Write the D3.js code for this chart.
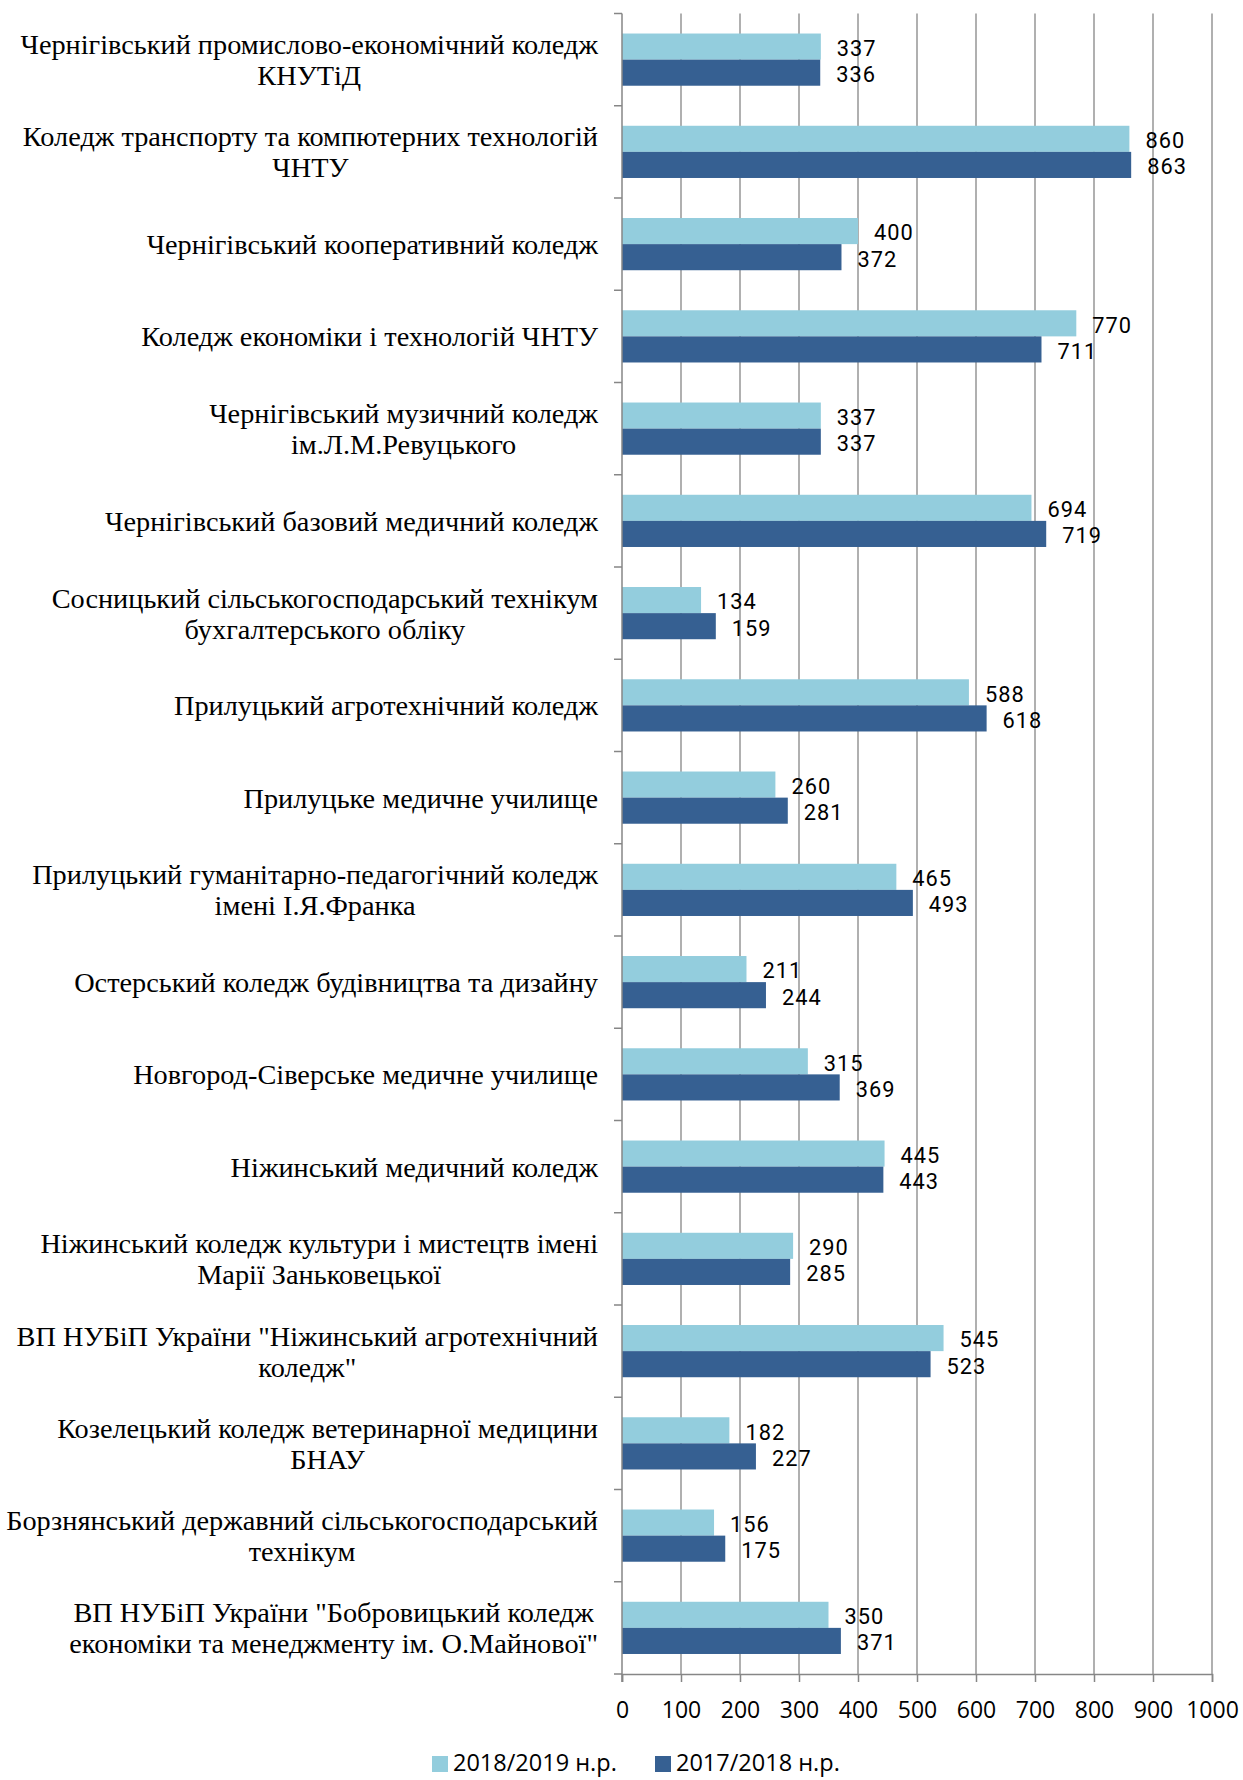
<!DOCTYPE html>
<html><head><meta charset="utf-8">
<script src="https://cdn.jsdelivr.net/npm/d3@7"></script>
<style>
body{margin:0;background:#fff;}
svg{display:block;}
</style></head>
<body>
<svg id="chart" width="1243" height="1780"></svg>
<script>
const categories = [
  ["Чернігівський промислово-економічний коледж","КНУТіД"],
  ["Коледж транспорту та компютерних технологій","ЧНТУ"],
  ["Чернігівський кооперативний коледж"],
  ["Коледж економіки і технологій ЧНТУ"],
  ["Чернігівський музичний коледж","ім.Л.М.Ревуцького"],
  ["Чернігівський базовий медичний коледж"],
  ["Сосницький сільськогосподарський технікум","бухгалтерського обліку"],
  ["Прилуцький агротехнічний коледж"],
  ["Прилуцьке медичне училище"],
  ["Прилуцький гуманітарно-педагогічний коледж","імені І.Я.Франка"],
  ["Остерський коледж будівництва та дизайну"],
  ["Новгород-Сіверське медичне училище"],
  ["Ніжинський медичний коледж"],
  ["Ніжинський коледж культури і мистецтв імені","Марії Заньковецької"],
  ["ВП НУБіП України \"Ніжинський агротехнічний","коледж\""],
  ["Козелецький коледж ветеринарної медицини","БНАУ"],
  ["Борзнянський державний сільськогосподарський","технікум"],
  ["ВП НУБіП України \"Бобровицький коледж","економіки та менеджменту ім. О.Майнової\""]
];
const series2018 = [337,860,400,770,337,694,134,588,260,465,211,315,445,290,545,182,156,350];
const series2017 = [336,863,372,711,337,719,159,618,281,493,244,369,443,285,523,227,175,371];
const seriesNames = ["2018/2019 н.р.","2017/2018 н.р."];
const xTicks = [0,100,200,300,400,500,600,700,800,900,1000];
const colors = ["#93CDDD","#366092"];

const svg = d3.select("#chart");
const X0 = 622, X1 = 1212, Y0 = 13.5, Y1 = 1674;
const x = d3.scaleLinear().domain([0,1000]).range([X0,X1]);
const idx = d3.range(categories.length);
const y = d3.scaleBand().domain(idx).range([Y0,Y1]).padding(0);
const bw = y.bandwidth();
const groupH = bw*0.566;
const sub = d3.scaleBand().domain([0,1]).range([0,groupH]).padding(0);

// gridlines
svg.append("g").selectAll("line").data(xTicks.slice(1)).join("line")
  .attr("x1",d=>x(d)).attr("x2",d=>x(d)).attr("y1",Y0).attr("y2",Y1)
  .attr("stroke","#868686").attr("stroke-width",1.3);

// bars
const g = svg.append("g");
const data = [];
idx.forEach(i=>{
  data.push({i, s:0, v:series2018[i]});
  data.push({i, s:1, v:series2017[i]});
});
g.selectAll("rect").data(data).join("rect")
  .attr("x",x(0))
  .attr("y",d=>y(d.i)+(bw-groupH)/2+sub(d.s))
  .attr("width",d=>x(d.v)-x(0))
  .attr("height",sub.bandwidth())
  .attr("fill",d=>colors[d.s]);

// value labels
g.selectAll("text").data(data).join("text")
  .attr("x",d=>x(d.v)+16)
  .attr("y",d=>y(d.i)+(bw-groupH)/2+sub(d.s)+sub.bandwidth()/2+1.5)
  .attr("dy","0.36em")
  .attr("font-family","Roboto, sans-serif")
  .attr("font-size",21.8)
  .attr("letter-spacing",1)
  .attr("fill","#000")
  .text(d=>d.v);

// y axis line with ticks
const yAxisG = svg.append("g");
yAxisG.append("line").attr("x1",X0).attr("x2",X0).attr("y1",Y0).attr("y2",Y1+8)
  .attr("stroke","#868686").attr("stroke-width",1.5);
yAxisG.selectAll("line.t").data(d3.range(categories.length+1)).join("line").attr("class","t")
  .attr("x1",X0-8).attr("x2",X0).attr("y1",d=>Y0+d*bw).attr("y2",d=>Y0+d*bw)
  .attr("stroke","#868686").attr("stroke-width",1.5);

// x axis
const xAxis = d3.axisBottom(x).tickValues(xTicks).tickFormat(d3.format("d")).tickSize(8).tickPadding(20);
const xg = svg.append("g").attr("transform",`translate(0,${Y1})`).call(xAxis);
xg.select(".domain").attr("stroke","#868686").attr("stroke-width",1.5);
xg.selectAll(".tick line").attr("stroke","#868686").attr("stroke-width",1.5);
xg.selectAll(".tick text").attr("font-family","'Open Sans', sans-serif").attr("font-size",23).attr("fill","#000");

// category labels
const LABEL_RIGHT = 598, LINE_H = 31;
const lg = svg.append("g");
categories.forEach((lines,i)=>{
  const cy = y(i)+bw/2;
  const t = lg.append("text")
    .attr("font-family","'Liberation Serif', 'Times New Roman', serif")
    .attr("font-size",28.3).attr("fill","#000").attr("text-anchor","middle");
  const n = lines.length;
  const spans = lines.map((s,k)=>t.append("tspan").attr("y",cy+(k-(n-1)/2)*LINE_H).attr("dy","0.35em").text(s));
  const maxW = d3.max(spans,sp=>sp.node().getComputedTextLength());
  spans.forEach(sp=>sp.attr("x",LABEL_RIGHT-maxW/2));
});

// legend
const leg = svg.append("g").attr("transform","translate(0,1763)");
const legX = [432,655];
seriesNames.forEach((nm,k)=>{
  leg.append("rect").attr("x",legX[k]).attr("y",-7).attr("width",16).attr("height",16).attr("fill",colors[k]);
  leg.append("text").attr("x",legX[k]+21).attr("y",0).attr("dy","0.35em")
    .attr("font-family","'Open Sans', sans-serif").attr("font-size",23.5).attr("fill","#000").text(nm);
});
</script>
</body></html>
